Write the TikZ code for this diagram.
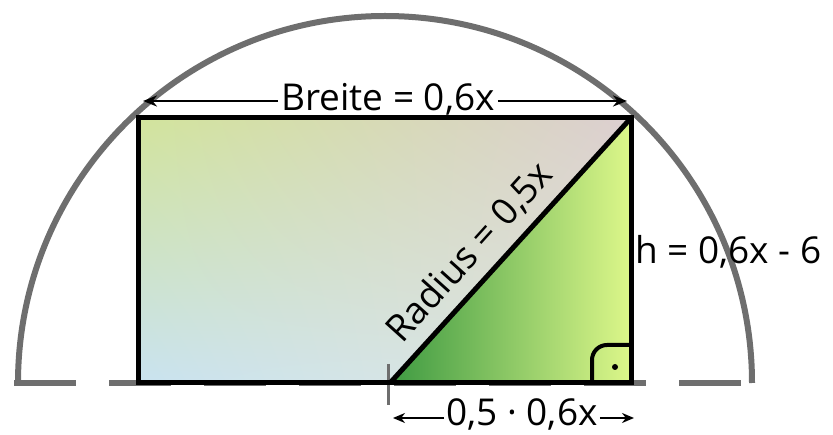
\documentclass[tikz,border=0pt]{standalone}
\usepackage{fontspec}
\setmainfont{Open Sans}
\usetikzlibrary{arrows.meta,shadings,calc}
\definecolor{arcgray}{HTML}{6E6E6E}
\definecolor{rectUL}{HTML}{D2E49C}
\definecolor{rectUR}{HTML}{DCCFD0}
\definecolor{rectLL}{HTML}{C9E3F0}
\definecolor{rectLR}{HTML}{E2E6DC}
\definecolor{triL}{HTML}{3E9A42}
\definecolor{triR}{HTML}{DDF78A}
\tikzset{
  lbl/.style={font=\fontsize{37}{40}\selectfont, inner sep=3pt},
  edge/.style={line width=5pt, black},
  dimone/.style={line width=2.5pt, black, -{Stealth[length=12pt,width=10pt]}},
  dimtwo/.style={line width=2.5pt, black, -{Stealth[length=14pt,width=11pt]}},
  grayline/.style={line width=6pt, arcgray}
}
\begin{document}
\begin{tikzpicture}[x=1pt,y=-1pt]
\useasboundingbox (0,0) rectangle (833,435);
\coordinate (TL) at (138,118);
\coordinate (TR) at (631,118);
\coordinate (BR) at (631,383);
\coordinate (BL) at (138,383);
\coordinate (M) at (390,383);
% fills
\shade[upper left=rectUL, upper right=rectUR, lower left=rectLL, lower right=rectLR] (TL) rectangle (BR);
\shade[left color=triL, right color=triR] (M) -- (TR) -- (BR) -- cycle;
% semicircle and dashed base
\coordinate (AL) at (18,383);
\coordinate (AR) at (752,383);
\draw[grayline] (AL) arc[start angle=180, end angle=360, radius=367];
\draw[grayline, dash pattern=on 62pt off 33pt] (14,383) -- (AR);
\coordinate (tickA) at (388,364);
\coordinate (tickB) at (388,405);
\draw[line width=3pt, arcgray] (tickA) -- (tickB);
% rectangle and diagonal
\draw[edge] (TL) rectangle (BR);
\draw[edge] (M) -- (TR);
% right angle marker
\coordinate (raA) at (592,383);
\coordinate (raB) at (631,345);
\draw[line width=4pt, rounded corners=15pt] (raA) |- (raB);
\fill (615,367) circle (3pt);
% labels
\coordinate (bA) at (143,101);
\coordinate (bB) at (627,101);
\node[lbl, anchor=base] (breite) at (388,111) {Breite = 0,6x};
\draw[dimtwo] (breite.west |- bA) -- (bA);
\draw[dimtwo] (breite.east |- bB) -- (bB);
\node[lbl, anchor=base west, inner sep=1pt] (h) at (634,264) {h = 0,6x - 6};
\node[lbl, rotate=48, anchor=base] (radius) at ($(M)!0.42!(TR) + (-12.6,-11.4)$) {Radius = 0,5x};
\node[lbl, anchor=base, inner sep=2pt] (half) at (522,426) {0,5 · 0,6x};
\coordinate (hl) at (393,418);
\coordinate (hr) at (634,418);
\draw[dimone] (half.west |- hl) -- (hl);
\draw[dimone] (half.east |- hr) -- (hr);
\end{tikzpicture}
\end{document}
